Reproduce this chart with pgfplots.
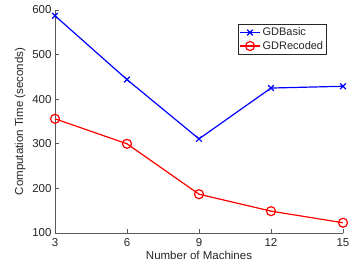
\documentclass[border=0pt]{standalone}
\usepackage{pgfplots}
\pgfplotsset{compat=1.18}
\usepackage{fontspec}
\setmainfont{Liberation Sans}
\definecolor{axgray}{gray}{0.35}
\definecolor{txgray}{gray}{0.15}
\begin{document}
\begin{tikzpicture}
\useasboundingbox (-55pt,-37pt) rectangle (299pt,233pt);
\begin{axis}[
  scale only axis,
  width=288pt, height=223pt,
  xmin=3, xmax=15, ymin=100, ymax=600,
  xtick={3,6,9,12,15},
  ytick={100,200,300,400,500,600},
  axis x line*=bottom, axis y line*=left,
  axis line style={axgray, line width=0.8pt, -},
  tick style={axgray, line width=0.6pt},
  tick align=inside,
  major tick length=4pt,
  ticklabel style={font=\fontsize{11.5}{13}\selectfont, text=txgray},
  xticklabel style={yshift=-2pt},
  /pgf/number format/assume math mode=true,
  xlabel={Number of Machines},
  ylabel={Computation Time (seconds)},
  label style={font=\fontsize{11.5}{13}\selectfont, text=txgray},
  xlabel style={yshift=2pt},
  legend style={at={(0.944,0.937)}, anchor=north east, draw=txgray, line width=0.5pt,
    font=\fontsize{11}{13}\selectfont, text=txgray, inner sep=1.5pt, row sep=0pt},
  legend cell align=left,
  legend image code/.code={
    \draw[mark repeat=2,mark phase=2,#1] plot coordinates {(0cm,0cm) (0.35cm,0cm) (0.7cm,0cm)};
  },
]
\addplot[blue, line width=1.2pt, mark=x, mark size=4pt, mark options={line width=1.2pt}]
  coordinates {(3,587) (6,444) (9,311) (12,425) (15,429)};
\addlegendentry{GDBasic}
\addplot[red, line width=1.2pt, mark=o, mark size=4.5pt, mark options={line width=1.2pt}]
  coordinates {(3,356) (6,300) (9,187) (12,149) (15,123)};
\addlegendentry{GDRecoded}
\end{axis}
\end{tikzpicture}
\end{document}
